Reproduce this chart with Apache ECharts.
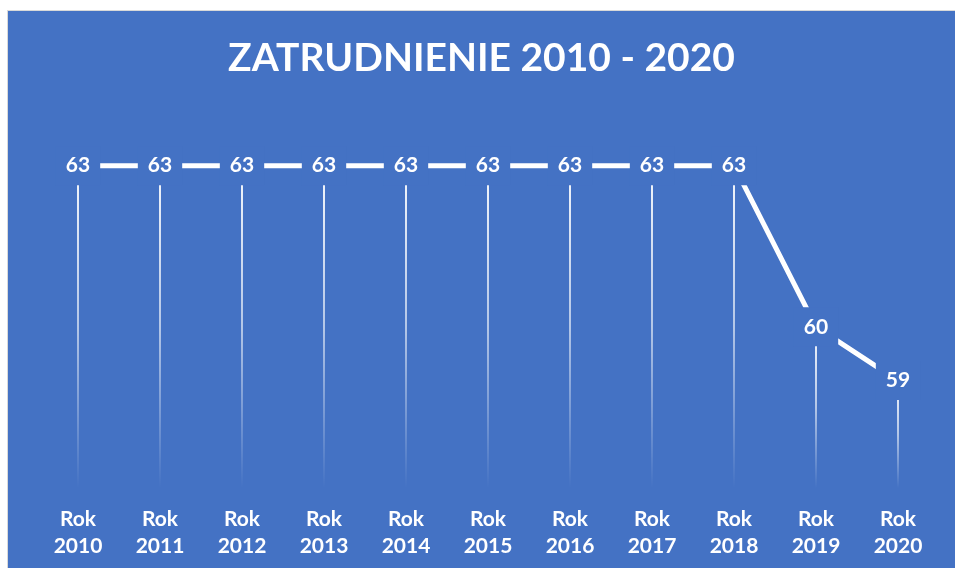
<!DOCTYPE html>
<html>
<head>
<meta charset="utf-8">
<script src="https://cdn.jsdelivr.net/npm/echarts@6/dist/echarts.min.js"></script>
<style>
  html, body { margin: 0; padding: 0; background: #fff; }
  #chart {
    position: absolute;
    left: 7px; top: 10px;
    width: 947px; height: 557px;
    border-left: 1px solid #d9d9d9;
    border-top: 1px solid #d9d9d9;
  }
</style>
</head>
<body>
<div id="chart"></div>
<script>
const years = ['Rok\n2010', 'Rok\n2011', 'Rok\n2012', 'Rok\n2013', 'Rok\n2014', 'Rok\n2015',
  'Rok\n2016', 'Rok\n2017', 'Rok\n2018', 'Rok\n2019', 'Rok\n2020']
const employment = [63, 63, 63, 63, 63, 63, 63, 63, 63, 60, 59]

const blue = '#4472C4'
const font = 'Lato'

const chart = echarts.init(document.getElementById('chart'))

chart.setOption({
  backgroundColor: blue,
  animation: false,
  title: {
    text: 'ZATRUDNIENIE 2010 - 2020',
    left: 'center',
    top: 23,
    textStyle: {
      color: '#fff',
      fontFamily: font,
      fontWeight: 'bold',
      fontSize: 39
    }
  },
  grid: { left: 29, right: 16, top: 101, bottom: 80 },
  xAxis: {
    type: 'category',
    data: years,
    axisLine: { show: false },
    axisTick: { show: false },
    axisLabel: {
      color: '#fff',
      fontFamily: font,
      fontWeight: 'bold',
      fontSize: 21,
      lineHeight: 27,
      margin: 18
    }
  },
  yAxis: {
    type: 'value',
    min: 57,
    max: 64,
    show: false,
    splitLine: { show: false }
  },
  series: [
    {
      // drop lines from each point down to the axis
      type: 'bar',
      data: employment,
      barWidth: 2,
      z: 1,
      itemStyle: {
        color: new echarts.graphic.LinearGradient(0, 0, 0, 1, [
          { offset: 0, color: 'rgba(255,255,255,0.95)' },
          { offset: 0.5, color: 'rgba(255,255,255,0.6)' },
          { offset: 1, color: 'rgba(255,255,255,0)' }
        ])
      }
    },
    {
      type: 'line',
      data: employment,
      z: 3,
      symbol: 'circle',
      symbolSize: 1,
      itemStyle: { color: '#fff' },
      lineStyle: { color: '#fff', width: 5 },
      label: {
        show: true,
        position: 'inside',
        color: '#fff',
        fontFamily: font,
        fontWeight: 'bold',
        fontSize: 21,
        backgroundColor: blue,
        padding: [9, 10, 9, 10]
      }
    }
  ]
})
</script>
</body>
</html>
